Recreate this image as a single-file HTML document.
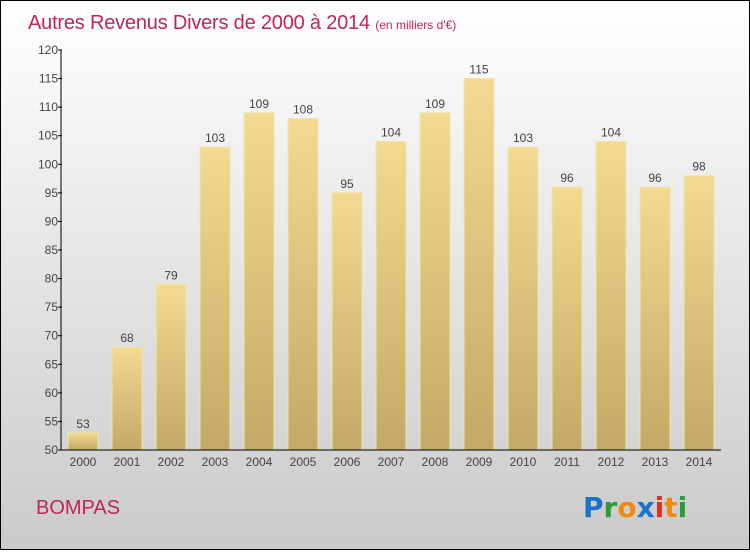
<!DOCTYPE html>
<html><head><meta charset="utf-8"><style>
html,body{margin:0;padding:0;}
body{width:750px;height:550px;overflow:hidden;font-family:"Liberation Sans",sans-serif;}
</style></head><body>
<svg width="750" height="550" xmlns="http://www.w3.org/2000/svg">
<defs>
<linearGradient id="bg" x1="0" y1="0" x2="0" y2="1"><stop offset="0" stop-color="#ffffff"/><stop offset="1" stop-color="#cacaca"/></linearGradient>
<linearGradient id="bar" x1="0" y1="0" x2="0" y2="1"><stop offset="0" stop-color="#f3da92"/><stop offset="1" stop-color="#c2aa66"/></linearGradient>
</defs>
<rect x="0.5" y="0.5" width="749" height="549" fill="url(#bg)" stroke="#000"/>
<text x="28" y="29" font-size="20" fill="#c0245a" letter-spacing="-0.2">Autres Revenus Divers de 2000 à 2014 <tspan font-size="12" letter-spacing="0">(en milliers d'€)</tspan></text>
<text x="36" y="514" font-size="20" fill="#c0245a">BOMPAS</text>
<g id="plot"></g>
<g font-size="28" font-weight="bold" font-family="'DejaVu Sans',sans-serif">
<text x="583" y="517"><tspan fill="#1a73c9">P</tspan><tspan fill="#2a9a3a">r</tspan><tspan fill="#f08a10">o</tspan><tspan fill="#1a73c9">x</tspan><tspan fill="#e03020">i</tspan><tspan fill="#f08a10">t</tspan><tspan fill="#2a9a3a">i</tspan></text>
</g>
</svg>
<script>
const years=["2000","2001","2002","2003","2004","2005","2006","2007","2008","2009","2010","2011","2012","2013","2014"];
const values=[53,68,79,103,109,108,95,104,109,115,103,96,104,96,98];
const yTicks=[50,55,60,65,70,75,80,85,90,95,100,105,110,115,120];
const NS="http://www.w3.org/2000/svg";
const g=document.getElementById('plot');
const x0=61,x1=721,yTop=50,yBot=450,vMin=50,vMax=120;
const band=(x1-x0)/years.length;
function y(v){return yBot-(v-vMin)/(vMax-vMin)*(yBot-yTop);}
function xc(i){return x0+band*(i+0.5);}
function mk(t,a){const e=document.createElementNS(NS,t);for(const k in a)e.setAttribute(k,a[k]);g.appendChild(e);return e;}
values.forEach((v,i)=>{
 const r=mk('rect',{x:xc(i)-15,y:y(v),width:30,height:yBot-y(v),fill:'url(#bar)',stroke:'#f5e3a8','stroke-width':1});
 
 
 const t=mk('text',{x:xc(i),y:y(v)-5,'text-anchor':'middle','font-size':12,fill:'#444'});
 t.textContent=v;
 
 
 const l=mk('text',{x:xc(i),y:466,'text-anchor':'middle','font-size':12,fill:'#444'});
 l.textContent=years[i];
 
 
});
yTicks.forEach(v=>{
 const tk=mk('line',{x1:x0-3,x2:x0+1,y1:y(v),y2:y(v),stroke:'#000'});
 
 
 const t=mk('text',{x:x0-3,y:y(v)+4,'text-anchor':'end','font-size':12,fill:'#444'});
 t.textContent=v;
 
 
});
const ya=mk('line',{x1:x0,x2:x0,y1:yTop,y2:yBot,stroke:'#000'});


const xa=mk('line',{x1:x0,x2:x1,y1:yBot,y2:yBot,stroke:'#000'});


</script>
</body></html>
